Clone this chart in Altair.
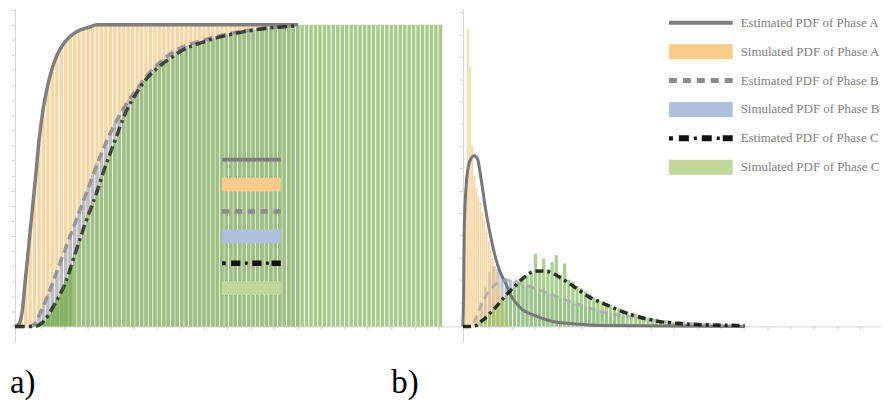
import altair as alt
import pandas as pd

# ---------------- panel a) cumulative curves (x in plot units 0..100, y = probability) ----------------
a_est_A_x = [0, 0.96, 1.63, 2.3, 2.97, 3.64, 4.53, 5.42, 6.32, 7.21, 8.33, 9.44, 10.78, 12.12, 13.9, 16.58, 18.37, 63.46]
a_est_A_y = [0, 0.01, 0.05, 0.15, 0.25, 0.35, 0.48, 0.62, 0.72, 0.79, 0.855, 0.9, 0.935, 0.958, 0.978, 0.992, 1.0, 1.0]

a_est_B_x = [0, 3.2, 4.6, 6.09, 7.59, 9.82, 12.05, 14.29, 16.52, 18.75, 20.98, 23.21, 25.45, 27.68, 29.91, 32.9, 36.6, 41.8, 49.2, 56.8, 63.5]
a_est_B_y = [0, 0, 0.012, 0.06, 0.111, 0.199, 0.287, 0.375, 0.463, 0.551, 0.628, 0.694, 0.749, 0.793, 0.837, 0.881, 0.92, 0.947, 0.974, 0.99, 1.0]

a_est_C_x = [0, 4.3, 6.06, 9.06, 11.29, 13.53, 15.76, 17.99, 20.22, 22.46, 24.69, 26.92, 29.15, 32.14, 35.11, 37.34, 41.81, 49.17, 56.76, 63.46]
a_est_C_y = [0, 0, 0.012, 0.078, 0.144, 0.243, 0.342, 0.43, 0.529, 0.617, 0.705, 0.766, 0.815, 0.859, 0.892, 0.914, 0.941, 0.971, 0.989, 0.997]

a_sim_A_start = 0
a_sim_A = [0.005, 0.04, 0.18, 0.33, 0.475, 0.625, 0.70, 0.80, 0.86, 0.90, 0.93, 0.945, 0.96, 0.97, 0.98, 0.985,
           0.99, 0.995, 1.0, 1.0, 1.0, 1.0, 1.0, 1.0, 1.0, 1.0, 1.0, 1.0, 1.0, 1.0, 1.0, 1.0, 1.0, 1.0, 1.0, 1.0,
           1.0, 1.0, 1.0, 1.0, 1.0, 1.0, 1.0, 1.0, 1.0, 1.0, 1.0, 1.0, 1.0, 1.0, 1.0, 1.0, 1.0, 1.0, 1.0, 1.0,
           1.0, 1.0, 1.0, 1.0, 1.0, 1.0, 1.0, 1.0]

a_sim_B_start = 3
a_sim_B = [0.003, 0.011, 0.04, 0.074, 0.108, 0.146, 0.186, 0.226, 0.265, 0.305, 0.344, 0.383, 0.423, 0.462, 0.502,
           0.541, 0.578, 0.611, 0.643, 0.673, 0.701, 0.726, 0.750, 0.770, 0.789, 0.809, 0.829, 0.846, 0.861, 0.875,
           0.887, 0.897, 0.908, 0.918, 0.925, 0.930, 0.935, 0.940, 0.945, 0.950, 0.953, 0.957, 0.961, 0.965, 0.968,
           0.972, 0.975, 0.977, 0.979, 0.981, 0.983, 0.985, 0.987, 0.989, 0.991, 0.992, 0.994, 0.995, 0.997, 0.998, 1.0]

# simulated C: densely binned head (darker block) and striped tail
a_sim_C_head_start = 4
a_sim_C_head = [0.001, 0.008, 0.02, 0.04, 0.066, 0.09, 0.12, 0.153, 0.197]
a_sim_C_tail_start = 13
a_sim_C_tail = [0.241, 0.287, 0.33, 0.371, 0.411, 0.453,
                0.497, 0.541, 0.579, 0.619, 0.658, 0.697, 0.727, 0.754, 0.779, 0.801, 0.820, 0.835, 0.850, 0.864,
                0.875, 0.886, 0.897, 0.906, 0.916, 0.922, 0.928, 0.934, 0.940, 0.944, 0.948, 0.952, 0.956, 0.960,
                0.964, 0.968, 0.971, 0.974, 0.976, 0.979, 0.981, 0.983, 0.986, 0.988, 0.990, 0.991, 0.992, 0.993,
                0.995, 0.996, 0.997,
                1.0, 1.0, 1.0, 1.0, 1.0, 1.0, 1.0, 1.0, 1.0, 1.0, 1.0, 1.0, 1.0, 1.0, 1.0, 1.0,
                1.0, 1.0, 1.0, 1.0, 1.0, 1.0, 1.0, 1.0, 1.0, 1.0, 1.0, 1.0, 1.0, 1.0, 1.0, 1.0]

a_x_ticks = [5.8, 11.0, 16.3, 21.4, 26.6, 31.8, 37.0, 42.3, 47.6, 52.9, 58.1, 63.4, 68.6, 73.8, 79.1, 84.4, 89.7, 95.0]
a_y_ticks = [0, 0.05, 0.1, 0.15, 0.2, 0.25, 0.3, 0.35, 0.4, 0.45, 0.5, 0.55, 0.6, 0.65, 0.7, 0.75, 0.8, 0.85,
             0.9, 0.95, 1.0, 1.05]

# ---------------- panel b) density curves ----------------
b_est_A_x = [0, 0.15, 0.31, 0.88, 1.67, 2.7, 3.51, 4.3, 5.49, 6.68, 7.88, 9.07, 10.26, 11.46, 13.84, 17.42, 21.0, 26.97, 32.9, 67.5]
b_est_A_y = [0, 0.1, 0.318, 0.484, 0.549, 0.566, 0.555, 0.494, 0.384, 0.296, 0.225, 0.176, 0.143, 0.104, 0.061, 0.035, 0.018, 0.008, 0.003, 0.0]

b_est_B_x = [0, 1.91, 3.1, 4.3, 5.97, 7.88, 10.26, 11.93, 13.84, 18.6, 23.4, 28.2, 32.9, 40.1, 47.3, 56.8, 67.5]
b_est_B_y = [0, 0, 0.028, 0.07, 0.11, 0.14, 0.153, 0.153, 0.143, 0.12, 0.094, 0.071, 0.051, 0.031, 0.018, 0.008, 0.002]

b_est_C_x = [0, 2.39, 4.77, 7.95, 10.33, 11.93, 14.32, 16.71, 18.14, 20.69, 23.08, 25.47, 27.85, 30.24, 32.63, 35.01, 37.4, 42.08, 46.06, 53.94, 67.54]
b_est_C_y = [0, 0, 0.021, 0.065, 0.104, 0.126, 0.159, 0.181, 0.184, 0.181, 0.164, 0.143, 0.12, 0.098, 0.082, 0.068, 0.054, 0.032, 0.019, 0.008, 0.003]

b_sim_A_start = 0
b_sim_A = [0.35, 0.5, 0.985, 0.86, 0.60, 0.50, 0.46, 0.43, 0.41, 0.38, 0.35, 0.31, 0.28, 0.25, 0.225, 0.20,
           0.175, 0.15, 0.12, 0.08, 0.045, 0.02, 0.01]

b_sim_B_start = 3
b_sim_B = [0.03, 0.08, 0.13, 0.18, 0.2, 0.19, 0.17, 0.16, 0.155, 0.15, 0.145, 0.14, 0.135, 0.13, 0.125, 0.12,
           0.115, 0.11, 0.105, 0.1, 0.095, 0.09, 0.085, 0.08, 0.075, 0.07, 0.066, 0.062, 0.058, 0.054, 0.05,
           0.047, 0.044, 0.041, 0.038, 0.035]

b_sim_C_start = 3
b_sim_C = [0.01, 0.02, 0.035, 0.045, 0.058, 0.072, 0.088, 0.103, 0.118, 0.13, 0.145, 0.158, 0.168, 0.177,
           0.24, 0.185, 0.225, 0.19, 0.214, 0.236, 0.172, 0.209, 0.155, 0.148, 0.135, 0.127, 0.116, 0.106, 0.097,
           0.09, 0.084, 0.078, 0.072, 0.066, 0.06, 0.055, 0.05, 0.045, 0.041, 0.037, 0.033, 0.029, 0.026, 0.023,
           0.02, 0.018, 0.016, 0.014, 0.013, 0.011, 0.01, 0.009, 0.008, 0.008, 0.007, 0.006, 0.006, 0.005, 0.005,
           0.004, 0.004, 0.004, 0.003, 0.003, 0.003]

b_x_ticks = [0.6, 6.2, 11.7, 17.3, 22.9, 28.4, 34.0, 39.6, 45.2, 50.7, 56.3, 61.9, 67.4, 73.0, 78.6, 84.1, 89.7, 95.3]
b_y_ticks = [0.08, 0.154, 0.228, 0.302, 0.376, 0.45, 0.524, 0.598, 0.672, 0.746, 0.82, 0.894, 0.968, 1.042]

# ---------------- legend ----------------
SERIES = ["Estimated PDF of Phase A", "Simulated PDF of Phase A",
          "Estimated PDF of Phase B", "Simulated PDF of Phase B",
          "Estimated PDF of Phase C", "Simulated PDF of Phase C"]

# ---------------- styling ----------------
LEG_COLORS = ["#7f7f7f", "#f8cd8c", "#8c8c8c", "#aec0dc", "#111111", "#c2d89a"]
SOLID = "M-4.571,-0.286H4.571V0.286H-4.571Z"
RECT = "M-4.571,-1.071H4.571V1.071H-4.571Z"
DASHED = ("M-4.571,-0.357H-3.429V0.357H-4.571Z M-2.571,-0.357H-1.429V0.357H-2.571Z "
          "M-0.571,-0.357H0.571V0.357H-0.571Z M1.429,-0.357H2.571V0.357H1.429Z M3.429,-0.357H4.571V0.357H3.429Z")
DASHDOT = ("M-4.571,-0.3H-4.0V0.3H-4.571Z M-3.143,-0.43H-1.714V0.43H-3.143Z M-1.0,-0.25H-0.571V0.25H-1.0Z "
           "M0.143,-0.43H1.571V0.43H0.143Z M2.286,-0.25H2.714V0.25H2.286Z M3.143,-0.43H4.571V0.43H3.143Z")
LEG_SHAPES = [SOLID, RECT, DASHED, RECT, DASHDOT, RECT]

AX = "#d3d3d3"
Y_DOM = [-0.0528, 1.0528]
SERIF = "Liberation Serif"


def curve_df(xs, ys):
    return pd.DataFrame({"x": xs, "y": ys})


def hist_df(start, width, vals, gap):
    return pd.DataFrame({
        "x": [start + i * width for i in range(len(vals))],
        "x2": [start + (i + 1) * width - gap for i in range(len(vals))],
        "y": vals,
    })


def panel(width, bars, lines, legend, xticks, yticks, title_text, title_dx):
    xs = alt.Scale(domain=[0, 100], nice=False, zero=False)
    ys = alt.Scale(domain=Y_DOM, nice=False, zero=False)
    xax = alt.Axis(values=xticks, labels=False, title=None, grid=False, domainColor=AX, tickColor=AX,
                   tickSize=3, offset=-16)
    yax = alt.Axis(values=yticks, labels=False, title=None, grid=False, domainColor=AX, tickColor=AX,
                   tickSize=4)
    layers = []
    for df, color, op in bars:
        layers.append(alt.Chart(df).mark_rect(color=color, opacity=op, strokeWidth=0).encode(
            x=alt.X("x:Q", scale=xs, axis=xax), x2="x2:Q",
            y=alt.Y("y:Q", scale=ys, axis=yax), y2=alt.datum(0)))
    for df, color, dash, sw, op in lines:
        kw = dict(color=color, strokeWidth=sw, opacity=op, interpolate="monotone")
        if dash:
            kw["strokeDash"] = dash
        layers.append(alt.Chart(df).mark_line(**kw).encode(
            x=alt.X("x:Q", scale=xs, axis=xax), y=alt.Y("y:Q", scale=ys, axis=yax)))
    leg_df = pd.DataFrame({"series": SERIES})
    layers.append(alt.Chart(leg_df).transform_filter("false").mark_point(filled=True, opacity=1).encode(
        color=alt.Color("series:N", scale=alt.Scale(domain=SERIES, range=LEG_COLORS), legend=legend),
        shape=alt.Shape("series:N", scale=alt.Scale(domain=SERIES, range=LEG_SHAPES), legend=legend)))
    return alt.layer(*layers).properties(
        width=width, height=335,
        title=alt.TitleParams(text=title_text, orient="bottom", anchor="start", frame="group",
                              font=SERIF, fontSize=33, fontWeight="normal", color="#000000",
                              baseline="alphabetic", offset=51, dx=title_dx))


ORANGE, BLUE, GREEN = "#f5c886", "#9fb1d4", "#97c276"

legend_a = alt.Legend(title=None, orient="none", legendX=208, legendY=145, padding=0, symbolSize=167,
                      symbolOffset=23, symbolStrokeWidth=0, symbolOpacity=1, labelExpr="''",
                      labelFontSize=8, labelOffset=4, rowPadding=13)
legend_b = alt.Legend(title=None, orient="none", legendX=207, legendY=7, padding=0, symbolSize=196,
                      symbolOffset=25, symbolStrokeWidth=0, symbolOpacity=1, labelFont=SERIF,
                      labelFontSize=13, labelColor="#808080", labelOffset=33, labelLimit=300, rowPadding=14)

pa = panel(
    448,
    [(hist_df(a_sim_A_start, 1, a_sim_A, 0.22), ORANGE, 0.75),
     (hist_df(a_sim_B_start, 1, a_sim_B, 0.22), BLUE, 0.7),
     (hist_df(a_sim_C_head_start, 1, a_sim_C_head, 0), "#7fb25c", 0.9),
     (hist_df(a_sim_C_tail_start, 1, a_sim_C_tail, 0.22), GREEN, 0.85)],
    [(curve_df(a_est_A_x, a_est_A_y), "#7f7f7f", None, 3.5, 1),
     (curve_df(a_est_B_x, a_est_B_y), "#8c8c8c", [9, 5], 3.5, 0.85),
     (curve_df(a_est_C_x, a_est_C_y), "#000000", [10, 4, 3, 4], 3.5, 0.65)],
    legend_a, a_x_ticks, a_y_ticks, "a)", -5)

pb = panel(
    419,
    [(hist_df(b_sim_B_start, 1, b_sim_B, 0.24), BLUE, 0.75),
     (hist_df(b_sim_A_start, 0.5, b_sim_A, 0.12), ORANGE, 0.8),
     (hist_df(b_sim_C_start, 1, b_sim_C, 0.24), "#92c46e", 0.8)],
    [(curve_df(b_est_A_x, b_est_A_y), "#777777", None, 3, 1),
     (curve_df(b_est_B_x, b_est_B_y), "#a8a8a8", [8, 5], 3, 0.75),
     (curve_df(b_est_C_x, b_est_C_y), "#000000", [8, 4, 3, 4], 3.5, 0.8)],
    legend_b, b_x_ticks, b_y_ticks, "b)", -72)

chart = alt.hconcat(pa, pb, spacing=2, bounds="flush").resolve_scale(
    color="independent", shape="independent").properties(padding=0).configure_view(stroke=None)

chart.save("out.html", embed_options={"renderer": "svg", "actions": False})
